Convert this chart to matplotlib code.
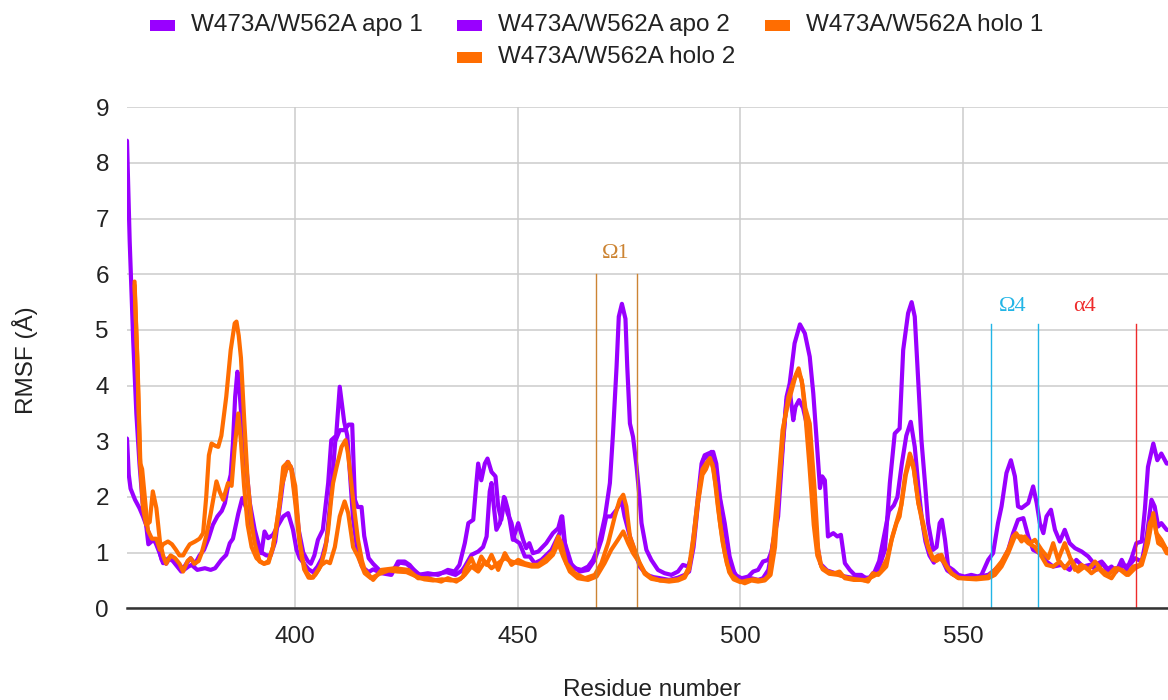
import matplotlib
matplotlib.use("Agg")
import matplotlib.pyplot as plt
from matplotlib.patches import Rectangle

plt.rcParams['font.family'] = ['Liberation Sans', 'DejaVu Sans']

series_names = ["W473A/W562A apo 1", "W473A/W562A apo 2",
                "W473A/W562A holo 1", "W473A/W562A holo 2"]
series_colors = ["#9900ff", "#9900ff", "#ff6d01", "#ff6d01"]

apo1 = [(362.2,3.05),(362.6,2.4),(363,2.15),(364,1.95),(365,1.8),(365.8,1.65),(366.5,1.5),(367,1.15),(368,1.22),(369,1.17),(370,0.87),(371,0.8),(372,0.93),(373,0.87),(374,0.78),(375,0.69),(376,0.75),(376.7,0.78),(378,0.69),(379.7,0.72),(381,0.69),(382,0.72),(383.4,0.87),(384.5,0.96),(385.3,1.17),(386,1.25),(387.2,1.7),(388.1,1.98),(389,1.8),(390.2,1.47),(391.3,1.17),(392.4,0.99),(393.1,1.38),(393.9,1.26),(395,1.32),(396,1.47),(397.3,1.65),(398.4,1.71),(399.5,1.41),(400.3,1.05),(401,0.9),(402,0.8),(403,0.7),(404,0.65),(405,0.75),(406,0.9),(407,1.2),(408,2.0),(409,3.0),(410,3.2),(411,3.2),(412,3.3),(412.8,3.3),(413.4,1.95),(414,1.82),(414.9,1.82),(415.5,1.3),(416.5,0.9),(417.5,0.8),(419,0.68),(420.5,0.65),(422,0.7),(423.5,0.82),(425,0.8),(426.5,0.7),(428,0.6),(430,0.6),(432,0.62),(434,0.65),(436,0.6),(437.5,0.68),(438.1,0.75),(439.6,0.96),(441.1,1.02),(442.2,1.1),(443,1.29),(443.7,2.1),(444.1,2.25),(444.7,1.77),(445.2,1.41),(446,1.53),(446.9,2.0),(447.7,1.71),(448.6,1.53),(449.3,1.23),(450.4,1.17),(451.6,0.93),(452.7,0.93),(453.8,0.81),(455.3,0.87),(457.6,1.05),(459.4,1.35),(460,1.65),(460.6,1.17),(462.1,0.78),(463.9,0.66),(465.8,0.69),(467.3,0.87),(468.8,1.23),(469.9,1.65),(471,1.65),(472.2,1.77),(473.3,1.95),(474,1.65),(475.2,1.29),(476.7,0.93),(477.4,0.75),(479,0.6),(480.5,0.56),(482,0.54),(484,0.51),(486,0.55),(487.5,0.6),(488.5,0.66),(489.5,1.1),(490.5,1.89),(491.6,2.66),(492.4,2.72),(493.5,2.81),(494.6,2.48),(495.8,1.71),(496.9,1.23),(497.8,0.75),(499.5,0.54),(501,0.51),(502.5,0.54),(504,0.51),(505.1,0.54),(506.3,0.69),(507.4,1.17),(508.5,1.65),(509.6,2.96),(510.4,3.74),(511.1,3.92),(511.9,3.38),(512.4,3.62),(513.2,3.74),(514.1,3.6),(514.9,3.32),(515.6,2.8),(516.4,2.0),(517.2,1.2),(518,0.8),(519.5,0.68),(521,0.64),(523,0.58),(525,0.55),(527,0.55),(529,0.55),(530,0.62),(531.2,0.85),(532.3,1.3),(533.4,1.75),(534.5,1.85),(535.3,2.0),(536.3,2.6),(537.3,3.1),(538.3,3.35),(539.2,2.9),(540,2.2),(540.8,1.6),(541.6,1.2),(542.5,0.95),(543.5,0.82),(544.5,0.95),(545.5,0.85),(546.5,0.68),(548,0.6),(550,0.56),(552.7,0.56),(555.7,0.6),(557.2,0.69),(558.7,0.81),(560.2,1.05),(561.3,1.35),(562.4,1.59),(563.6,1.62),(564.7,1.29),(565.8,1.05),(567.3,0.99),(568.8,0.84),(570.3,0.75),(572.2,0.78),(574,0.69),(575.5,0.87),(577,0.75),(578.5,0.78),(580,0.69),(581.5,0.81),(583,0.66),(584.5,0.72),(586,0.75),(587.5,0.78),(588.7,0.9),(590.2,0.84),(591.3,1.29),(592.4,1.95),(593.1,1.83),(593.9,1.47),(594.6,1.53),(595.8,1.41),(596.5,1.4)]

apo2 = [(362.2,8.4),(362.8,6.6),(363.6,4.8),(364.3,3.5),(365,2.6),(365.7,1.9),(366.5,1.5),(367.5,1.25),(368.5,1.2),(369.5,1.0),(370.3,0.81),(371.5,0.9),(372.5,0.85),(373.5,0.75),(374.4,0.66),(375.5,0.8),(376.5,0.9),(377.5,0.8),(378.5,0.95),(379.5,1.05),(380.5,1.25),(381.5,1.5),(382.5,1.65),(383.5,1.75),(384.2,1.89),(384.9,2.2),(385.5,2.4),(386,2.96),(386.5,3.8),(387,4.25),(387.4,4.0),(387.9,3.44),(389,2.54),(389.8,1.89),(390.9,1.41),(391.7,1.17),(392.5,1.0),(393.5,0.95),(394.5,0.95),(395.5,1.2),(396.5,1.8),(397.3,2.3),(398.3,2.63),(399.2,2.5),(400,2.0),(400.8,1.4),(401.8,1.0),(402.8,0.85),(403.5,0.8),(404.3,0.95),(405.1,1.23),(406.2,1.41),(407.4,2.25),(408.1,3.02),(409.2,3.1),(410,3.98),(411,3.35),(411.7,3.1),(412.3,2.4),(413,1.6),(414,1.0),(415,0.75),(416.5,0.65),(417.5,0.7),(419.4,0.63),(421.6,0.6),(423.1,0.84),(424.6,0.84),(425.7,0.78),(427.6,0.6),(429.8,0.63),(432.1,0.6),(434.3,0.69),(435.8,0.66),(436.9,0.78),(438.1,1.17),(438.9,1.53),(440,1.59),(440.7,2.25),(441.1,2.6),(441.8,2.3),(442.6,2.6),(443.2,2.69),(444.1,2.45),(445,2.37),(445.6,1.83),(446.3,1.59),(447.1,1.98),(447.8,1.77),(448.9,1.23),(450.1,1.53),(451.2,1.23),(451.9,1.08),(452.6,1.17),(453.4,0.99),(454.6,1.02),(456.4,1.17),(457.9,1.35),(459.1,1.44),(459.8,1.65),(460.4,1.23),(461.3,0.87),(462.8,0.72),(464.3,0.69),(465.8,0.75),(466.9,0.87),(468.1,1.1),(469.6,1.65),(470.7,2.25),(471.4,3.14),(472.2,4.34),(472.7,5.24),(473.4,5.47),(474.2,5.2),(474.6,4.34),(475.2,3.32),(475.9,3.08),(476.7,2.54),(477.4,1.95),(477.8,1.53),(478.9,1.05),(480,0.87),(481.5,0.69),(483,0.63),(484.5,0.6),(486,0.66),(487.1,0.78),(488.3,0.75),(489,0.93),(490.1,1.71),(491.3,2.6),(492,2.75),(492.8,2.78),(493.9,2.81),(494.6,2.6),(495.4,2.0),(496.5,1.53),(497.6,0.93),(498.8,0.6),(500.3,0.54),(501.8,0.57),(502.9,0.66),(504,0.69),(505.1,0.84),(506.3,0.87),(507,1.02),(508.1,1.53),(509.3,2.72),(510.4,3.8),(511.1,4.04),(512.2,4.76),(513.4,5.1),(514.5,4.94),(515.6,4.52),(516.4,3.86),(517.1,3.08),(517.9,2.16),(518.4,2.37),(519,2.3),(519.7,1.29),(520.9,1.35),(521.8,1.29),(522.6,1.32),(523.5,0.81),(524.6,0.69),(525.7,0.6),(527.2,0.6),(528.7,0.51),(529.8,0.63),(531,0.69),(532.5,1.05),(533.6,2.25),(534.7,3.14),(535.8,3.23),(536.6,4.64),(537.7,5.3),(538.5,5.5),(539.2,5.24),(540,4.04),(540.7,3.02),(541.5,2.25),(542.2,1.53),(543.3,1.05),(544.1,1.1),(544.8,1.53),(545.3,1.59),(546,1.23),(546.7,0.75),(547.8,0.69),(549,0.6),(550.4,0.57),(551.9,0.6),(553.4,0.57),(554.2,0.6),(555.7,0.87),(556.8,0.99),(557.9,1.53),(558.7,1.83),(559.8,2.43),(560.8,2.66),(561.7,2.37),(562.4,1.83),(563.2,1.8),(564.7,1.89),(565.8,2.19),(566.6,1.89),(567.3,1.53),(568.1,1.35),(568.8,1.65),(569.8,1.77),(570.7,1.41),(571.8,1.2),(572.9,1.41),(574,1.17),(575.2,1.08),(576.7,1.02),(578.2,0.93),(579.7,0.78),(581.2,0.84),(582.3,0.69),(583.4,0.75),(584.5,0.66),(585.7,0.87),(586.8,0.69),(587.9,0.9),(589,1.17),(590.2,1.2),(590.9,1.77),(591.6,2.54),(592.8,2.96),(593.7,2.66),(594.6,2.78),(595.8,2.6),(596.5,2.6)]

holo1 = [(363.9,5.87),(364.6,4.3),(365.2,2.6),(365.6,2.5),(366.9,1.4),(367.8,1.25),(368.8,1.25),(369.6,1.05),(370.3,1.15),(371.4,1.2),(372.3,1.15),(373.2,1.05),(374,0.95),(374.8,0.95),(375.5,1.05),(376.3,1.15),(377.5,1.2),(378.5,1.25),(379.3,1.35),(380,2.0),(380.6,2.75),(381.2,2.96),(382,2.92),(382.7,2.9),(383.4,3.1),(384.5,3.8),(385.5,4.64),(386.4,5.12),(386.8,5.15),(387.3,4.9),(387.8,4.5),(388.5,3.44),(389.3,2.3),(390.2,1.53),(390.9,1.17),(392,0.84),(393,0.8),(394,0.82),(395,1.1),(395.8,1.5),(396.5,1.89),(397.3,2.54),(398.4,2.63),(399.1,2.5),(400,1.9),(400.8,1.3),(401.5,0.9),(402.5,0.65),(403.5,0.55),(404.5,0.6),(405.3,0.7),(405.9,0.81),(406.7,1.05),(407.4,1.41),(408,1.9),(408.5,2.25),(409.3,2.54),(410.4,2.9),(411.3,3.02),(411.8,2.8),(412.2,2.54),(413,1.95),(414.1,1.23),(415,0.85),(415.6,0.69),(417.5,0.51),(419.4,0.69),(422.4,0.72),(425.4,0.69),(427.6,0.54),(429.8,0.54),(432.8,0.48),(434.3,0.54),(436.2,0.48),(437.7,0.57),(438.1,0.69),(439.6,0.9),(440.7,0.69),(441.8,0.93),(443,0.78),(444.1,0.96),(445.6,0.69),(447.1,0.99),(448.6,0.78),(450.1,0.87),(451.6,0.81),(453.1,0.78),(454.6,0.78),(456.4,0.9),(457.9,1.02),(459.1,1.29),(459.8,1.17),(460.9,0.81),(462.8,0.63),(465.1,0.54),(467.3,0.6),(468.8,0.81),(470.3,1.17),(471.8,1.65),(472.9,1.95),(473.7,2.04),(474.4,1.83),(475.2,1.29),(476.3,1.05),(477.4,0.81),(478.5,0.65),(480,0.55),(482,0.5),(484,0.48),(486,0.5),(487.5,0.55),(488.5,0.7),(489.5,1.2),(490.5,1.9),(491.5,2.4),(492.3,2.5),(493,2.65),(493.7,2.6),(494.5,2.2),(495.5,1.5),(496.5,1.0),(497.5,0.65),(498.5,0.52),(500,0.47),(501.5,0.5),(503,0.52),(504.5,0.5),(505.5,0.52),(506.5,0.6),(507.5,1.3),(508.5,2.2),(509.5,3.2),(510.5,3.6),(511.5,3.9),(512.5,4.2),(513.1,4.31),(514,4.0),(514.6,3.6),(515.6,3.32),(516.7,2.13),(517.5,1.05),(518.2,0.75),(519.7,0.66),(521.2,0.63),(522.3,0.66),(523.5,0.54),(525.5,0.51),(527.5,0.51),(528.7,0.48),(529.8,0.63),(531,0.6),(532.8,0.75),(534,1.23),(535.1,1.53),(535.8,1.65),(537,2.37),(538.1,2.78),(538.8,2.6),(540,1.89),(541.1,1.53),(542.2,1.1),(543.3,0.87),(544.1,0.93),(545.2,0.96),(546.3,0.75),(547.5,0.63),(549,0.54),(550.4,0.54),(552.7,0.54),(555.7,0.57),(557.2,0.69),(558.7,0.84),(560.2,1.05),(561.3,1.29),(562,1.35),(563.2,1.2),(563.9,1.29),(565.1,1.17),(566.2,1.23),(567.7,1.05),(569.2,0.9),(570.3,1.17),(571.4,0.87),(572.9,1.17),(574,0.93),(575.2,0.69),(576.7,0.78),(578.2,0.69),(579.7,0.84),(581.2,0.69),(582.7,0.6),(584.2,0.72),(585.7,0.69),(587.2,0.6),(588.7,0.72),(590.2,0.78),(591.6,1.17),(592.8,1.71),(593.5,1.35),(594.6,1.23),(595.8,1.05),(596.5,1.05)]

holo2 = [(363.9,5.8),(364.5,4.5),(365.1,2.7),(365.8,1.8),(366.5,1.5),(367.3,1.55),(368,2.1),(368.8,1.8),(369.6,1.2),(370.3,0.95),(371,0.8),(372,0.95),(373,0.9),(374,0.8),(374.8,0.66),(375.8,0.85),(376.5,0.9),(377.3,0.8),(378.3,0.85),(379,1.0),(380,1.3),(381,1.7),(382.3,2.28),(383,2.1),(383.8,1.95),(384.9,2.25),(385.7,2.2),(386.4,2.9),(387.2,3.5),(387.8,3.0),(388.5,2.2),(389.3,1.5),(390.2,1.1),(391.3,0.9),(392,0.85),(393,0.8),(394,0.85),(395,1.1),(396,1.6),(397,2.2),(398,2.5),(399,2.55),(400,2.2),(401,1.2),(402,0.7),(403,0.55),(404,0.55),(405.9,0.78),(407,0.84),(407.8,0.81),(408.9,1.1),(410,1.65),(411.1,1.92),(411.9,1.71),(413,1.1),(414.1,0.93),(415.6,0.63),(417,0.54),(419,0.62),(421,0.68),(423,0.66),(425,0.65),(427,0.58),(429,0.52),(431,0.5),(433,0.52),(435,0.5),(437,0.52),(438.1,0.6),(439.6,0.75),(441.1,0.66),(442.6,0.84),(444.1,0.72),(445.6,0.81),(447.1,0.9),(448.6,0.84),(450.1,0.81),(451.6,0.78),(453.1,0.75),(454.6,0.75),(456.4,0.84),(457.9,0.96),(459.1,1.17),(460.2,0.93),(461.7,0.66),(463.5,0.54),(465.8,0.51),(467.7,0.57),(469.5,0.81),(471,1.05),(472.5,1.23),(473.7,1.38),(474.8,1.17),(475.9,0.99),(477.4,0.81),(478.5,0.62),(480,0.53),(482,0.5),(484,0.5),(486,0.52),(487.5,0.58),(488.5,0.75),(489.5,1.3),(490.5,2.0),(491.5,2.5),(492.3,2.6),(493.2,2.7),(494,2.5),(495,1.8),(496,1.2),(497,0.8),(498,0.6),(499.5,0.5),(501,0.45),(502.5,0.5),(504,0.48),(505.5,0.5),(506.8,0.6),(507.8,1.1),(508.8,2.3),(509.8,3.3),(510.8,3.8),(512,4.1),(513,4.25),(513.8,4.1),(514.6,3.5),(515.5,2.6),(516.5,1.5),(517.3,0.95),(518.5,0.7),(520,0.62),(522,0.6),(524,0.55),(526,0.52),(528,0.5),(530,0.58),(531.5,0.65),(533,0.9),(534.2,1.3),(535.3,1.6),(536.2,1.85),(537.2,2.4),(538.2,2.7),(539,2.5),(540,1.9),(541,1.5),(542,1.15),(543,0.95),(544,0.85),(545,0.9),(546,0.8),(547.5,0.62),(549,0.55),(551,0.53),(553,0.52),(555.7,0.54),(557.2,0.6),(558.7,0.75),(560.2,0.99),(561.7,1.29),(563.2,1.29),(564.7,1.17),(566.2,1.1),(567.7,0.93),(568.8,0.78),(570.3,0.75),(571.8,0.84),(572.9,0.72),(574.4,0.87),(575.9,0.66),(577.4,0.75),(578.9,0.63),(580.4,0.72),(581.9,0.6),(583.4,0.54),(584.9,0.72),(586.8,0.6),(588.3,0.75),(589.8,0.78),(590.9,0.99),(592,1.53),(592.8,1.65),(593.9,1.17),(595,1.11),(595.8,0.99),(596.5,0.98)]

# annotated regions: (label, x positions of lines, top of lines, colour)
region_labels = ["Ω1", "Ω4", "α4"]
region_lines = [[467.5, 476.8], [556.4, 566.9], [588.9]]
region_tops = [6.0, 5.1, 5.1]
region_label_x = [472.1, 561.2, 577.4]
region_label_y = [6.38, 5.42, 5.42]
region_colors = ["#cc8433", "#22b5e6", "#ee2b2b"]

x_ticks = [400, 450, 500, 550]
y_ticks = list(range(0, 10))

FS = 17.5
W, H = 1168, 700
fig = plt.figure(figsize=(W / 100, H / 100), dpi=100)
ax = fig.add_axes([127 / W, 1 - 608.3 / H, (1168 - 127) / W, (608.3 - 107.3) / H])

for data, color in zip([apo1, apo2, holo1, holo2], series_colors):
    xs = [p[0] for p in data]
    ys = [p[1] for p in data]
    ax.plot(xs, ys, color=color, lw=3.0, solid_joinstyle='round',
            solid_capstyle='round', zorder=3)

for lines, top, color, lab, lx, ly in zip(region_lines, region_tops, region_colors,
                                          region_labels, region_label_x, region_label_y):
    for lxv in lines:
        ax.plot([lxv, lxv], [0, top], color=color, lw=1.0, zorder=4)
    ax.text(lx, ly, lab, color=color, fontsize=16, ha='center', va='center',
            family=['Liberation Serif', 'DejaVu Serif'], zorder=5)

ax.set_xlim(362.2, 596.1)
ax.set_ylim(0, 9)
ax.set_xticks(x_ticks)
ax.set_yticks(y_ticks)
ax.grid(True, color='#cccccc', lw=1.1, zorder=0)
ax.set_axisbelow(True)
for s in ['top', 'right', 'left']:
    ax.spines[s].set_visible(False)
ax.spines['bottom'].set_color('#333333')
ax.spines['bottom'].set_linewidth(1.8)
ax.spines['bottom'].set_zorder(6)
ax.tick_params(axis='both', length=0, labelsize=FS, colors='#222222')
ax.tick_params(axis='x', pad=13)
ax.tick_params(axis='y', pad=13)

fig.text(652 / W, 1 - 690 / H, "Residue number", ha='center', va='center',
         fontsize=FS, color='#222222')
fig.text(25 / W, 1 - 360 / H, "RMSF (Å)", ha='center', va='center',
         fontsize=FS, color='#222222', rotation=90)

# legend: (marker left px, row centre px)
legend_pos = [(150, 25), (457, 25), (765, 25), (457, 57)]
for name, color, (mx, my) in zip(series_names, series_colors, legend_pos):
    fig.patches.append(Rectangle((mx / W, 1 - (my + 5.5) / H), 25 / W, 11 / H,
                                 transform=fig.transFigure, facecolor=color,
                                 edgecolor='none'))
    fig.text((mx + 41) / W, 1 - my / H, name, ha='left', va='center',
             fontsize=FS, color='#222222')

fig.savefig("out.png", dpi=100, facecolor='white')
